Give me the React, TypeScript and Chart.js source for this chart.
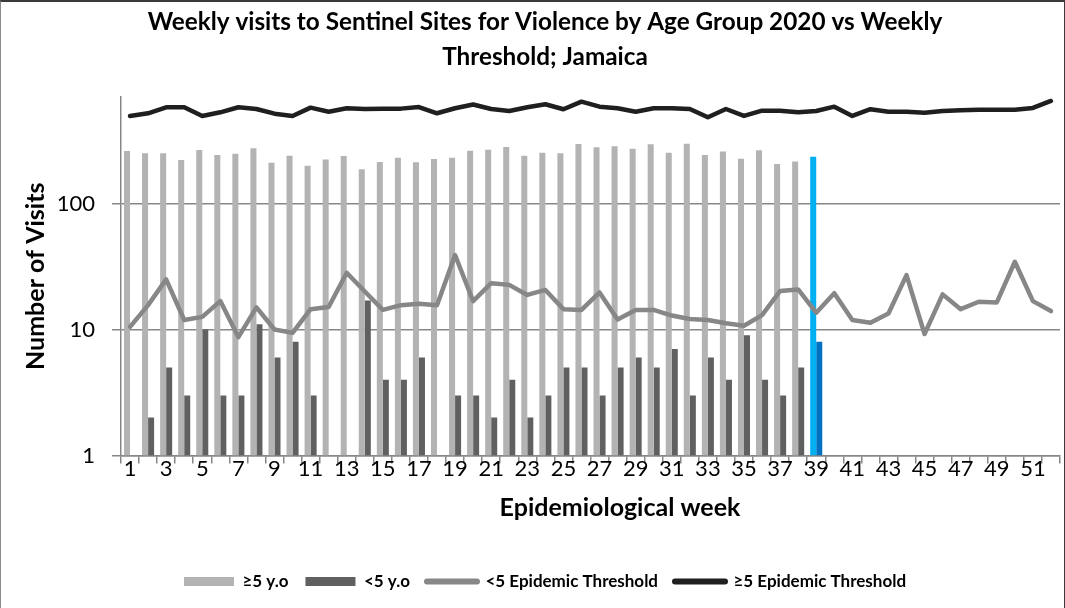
import { useEffect, useRef } from 'react';
import { Chart, registerables } from 'chart.js';

Chart.register(...registerables);

const FONT = 'Lato';

const weeks = ['1','2','3','4','5','6','7','8','9','10','11','12','13','14','15','16','17','18','19','20','21','22','23','24','25','26','27','28','29','30','31','32','33','34','35','36','37','38','39','40','41','42','43','44','45','46','47','48','49','50','51','52'];

const over5 = [261,250,250,221,266,243,248,274,211,239,199,223,238,187,213,231,212,225,231,262,267,281,239,253,250,297,279,285,272,295,253,298,243,258,227,264,206,215,235];

const under5 = [null,2,5,3,10,3,3,11,6,8,3,null,null,17,4,4,6,null,3,3,2,4,2,3,5,5,3,5,6,5,7,3,6,4,9,4,3,5,8];

const thresholdUnder5 = [10.5,15.6,25,11.9,12.6,16.8,8.7,15,10,9.4,14.5,15.1,28.2,20,14.3,15.6,16,15.6,39,16.8,23.3,22.6,18.8,20.6,14.5,14.3,19.7,12,14.3,14.3,12.9,12.1,11.9,11.2,10.7,13,20.2,20.8,13.6,19.4,11.9,11.3,13.4,27,9.2,19,14.5,16.6,16.4,34.5,16.8,14];

const thresholdOver5 = [495,520,580,580,495,529,580,562,516,495,576,535,570,562,566,566,583,520,570,610,562,542,580,613,560,643,587,570,535,570,570,562,483,562,495,545,545,529,542,587,495,560,535,535,526,542,550,554,554,554,573,651];

const yTicks = [1, 10, 100];
const highlightWeek = '39';

const titleLines = ['Weekly visits to Sentinel Sites for Violence by Age Group 2020 vs Weekly', 'Threshold; Jamaica'];
const xTitle = 'Epidemiological week';
const yTitle = 'Number of Visits';

const seriesLabels = ['\u22655 y.o', '<5 y.o', '<5 Epidemic Threshold', '\u22655 Epidemic Threshold'];
const colOver5 = '#b3b3b3';
const colUnder5 = '#606060';
const colOver5Hi = '#00b0f0';
const colUnder5Hi = '#0070c0';
const colThrUnder5 = '#878787';
const colThrOver5 = '#1f1f1f';
const gridCol = '#878787';

const PAD_L = 30;

const xTitlePlugin = {
  id: 'xTitlePlugin',
  afterDraw(chart: any) {
    const { ctx } = chart;
    ctx.save();
    ctx.font = `bold 25px ${FONT}`;
    ctx.fillStyle = '#000';
    ctx.textAlign = 'center';
    ctx.textBaseline = 'middle';
    ctx.fillText(xTitle, 620, 508);
    ctx.restore();
  },
};

export default function App() {
  const ref = useRef<HTMLCanvasElement>(null);

  useEffect(() => {
    document.body.style.margin = '0';
    const over5Colors = over5.map((_, i) => (weeks[i] === highlightWeek ? colOver5Hi : colOver5));
    const under5Colors = under5.map((_, i) => (weeks[i] === highlightWeek ? colUnder5Hi : colUnder5));
    const legendColors = [colOver5, colUnder5, colThrUnder5, colThrOver5];

    const chart = new Chart(ref.current as HTMLCanvasElement, {
      type: 'bar',
      data: {
        labels: weeks,
        datasets: [
          {
            type: 'bar',
            label: seriesLabels[0],
            data: over5,
            backgroundColor: over5Colors,
            categoryPercentage: 0.667,
            barPercentage: 1,
            order: 2,
          },
          {
            type: 'bar',
            label: seriesLabels[1],
            data: under5,
            backgroundColor: under5Colors,
            categoryPercentage: 0.667,
            barPercentage: 1,
            order: 2,
          },
          {
            type: 'line',
            label: seriesLabels[2],
            data: thresholdUnder5,
            borderColor: colThrUnder5,
            backgroundColor: colThrUnder5,
            borderWidth: 4.5,
            pointRadius: 0,
            tension: 0,
            borderJoinStyle: 'round',
            borderCapStyle: 'round',
            order: 1,
          },
          {
            type: 'line',
            label: seriesLabels[3],
            data: thresholdOver5,
            borderColor: colThrOver5,
            backgroundColor: colThrOver5,
            borderWidth: 4.5,
            pointRadius: 0,
            tension: 0,
            borderJoinStyle: 'round',
            borderCapStyle: 'round',
            order: 0,
          },
        ] as any,
      },
      options: {
        responsive: false,
        animation: false,
        devicePixelRatio: 1,
        layout: { padding: { left: PAD_L, right: 5, top: 0, bottom: 8 } },
        plugins: {
          title: {
            display: true,
            text: titleLines,
            color: '#000',
            font: { family: FONT, size: 24.3, weight: 'bold', lineHeight: '35px' } as any,
            padding: { top: 4.5, bottom: 22.5 },
          },
          legend: {
            position: 'bottom',
            labels: {
              usePointStyle: true,
              pointStyleWidth: 50,
              boxHeight: 9,
              padding: 17,
              color: '#000',
              font: { family: FONT, size: 17, weight: 'bold' },
              generateLabels: (c: any) =>
                c.data.datasets.map((ds: any, i: number) => ({
                  text: ds.label,
                  fillStyle: legendColors[i],
                  strokeStyle: legendColors[i],
                  lineWidth: i < 2 ? 0 : 6,
                  lineCap: 'round',
                  pointStyle: i < 2 ? 'rect' : 'line',
                  hidden: false,
                  datasetIndex: i,
                  fontColor: '#000',
                })),
            },
          },
          tooltip: { enabled: false },
        },
        scales: {
          x: {
            type: 'category',
            offset: true,
            grid: {
              offset: true,
              drawOnChartArea: false,
              drawTicks: true,
              tickLength: 8,
              color: gridCol,
              lineWidth: 1.5,
            },
            border: { color: gridCol, width: 1.5 },
            ticks: {
              autoSkip: false,
              maxRotation: 0,
              minRotation: 0,
              padding: -8,
              color: '#000',
              font: { family: FONT, size: 22 },
              callback: (_v: any, i: number) => (i % 2 === 0 ? weeks[i] : ''),
            },
            afterFit: (s: any) => {
              s.height = 100.5;
            },
          },
          y: {
            type: 'logarithmic',
            min: 1,
            max: 700,
            afterBuildTicks: (s: any) => {
              s.ticks = yTicks.map((v) => ({ value: v }));
            },
            ticks: {
              padding: 17,
              color: '#000',
              font: { family: FONT, size: 22 },
              callback: (v: any) => String(v),
            },
            grid: { color: gridCol, lineWidth: 1.5, tickLength: 9 },
            border: { color: gridCol, width: 1.5 },
            title: {
              display: true,
              text: yTitle,
              color: '#000',
              font: { family: FONT, size: 25, weight: 'bold' },
              padding: { top: 21 - PAD_L, bottom: 0 },
            },
            afterFit: (s: any) => {
              s.width = 121 - PAD_L;
            },
          },
        },
      } as any,
      plugins: [xTitlePlugin],
    });
    return () => chart.destroy();
  }, []);

  return (
    <div style={{ position: 'relative', width: 1065, height: 608, background: '#fff', overflow: 'hidden' }}>
      <canvas ref={ref} width={1065} height={608} style={{ display: 'block' }} />
      <div
        style={{
          position: 'absolute',
          left: 0,
          top: 0,
          right: 0,
          bottom: 0,
          borderTop: '2px solid #3a3a3a',
          borderLeft: '1px solid #8a8a8a',
          borderRight: '1px solid #3a3a3a',
          pointerEvents: 'none',
        }}
      />
    </div>
  );
}
